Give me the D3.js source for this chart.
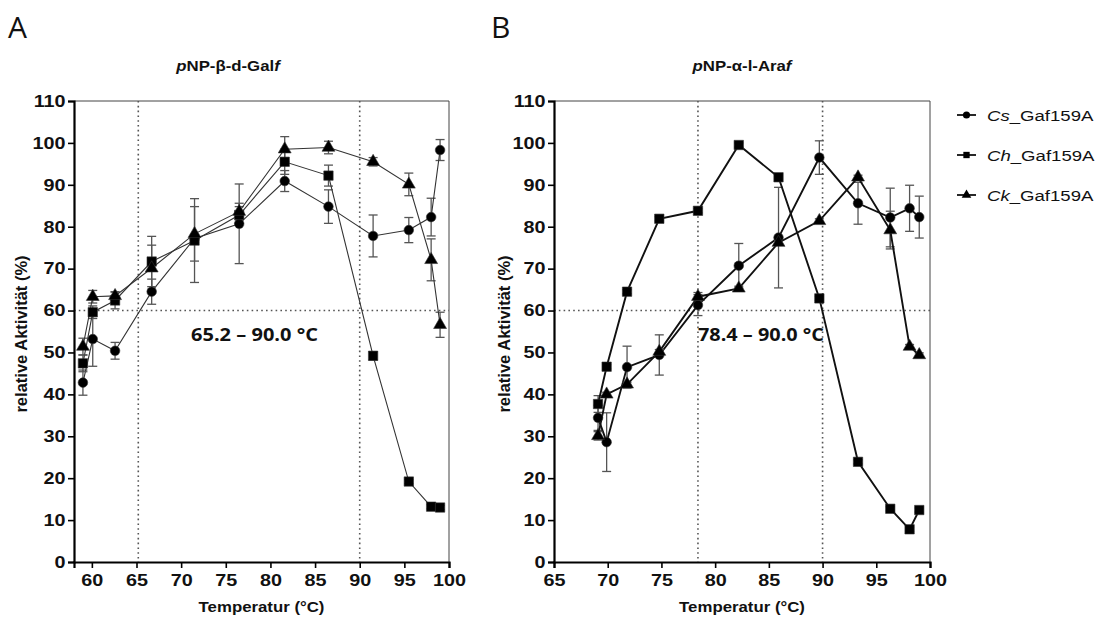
<!DOCTYPE html>
<html><head><meta charset="utf-8">
<script src="https://cdn.jsdelivr.net/npm/d3@7"></script>
<style>
body{margin:0;background:#fff;}
svg{display:block;font-family:"Liberation Sans",Arial,sans-serif;}
</style></head>
<body><svg id="chart" width="1103" height="619"></svg>
<script>
// ---------- DATA ----------
const seriesNames = ["Cs", "Ch", "Ck"];
const legendSuffix = "_Gaf159A";

// Panel A: pNP-β-d-Galf
const tempA = [59.0, 60.1, 62.6, 66.7, 71.5, 76.5, 81.6, 86.5, 91.5, 95.5, 98.0, 99.0];
const csA   = [42.8, 53.2, 50.4, 64.5, 77.2, 80.7, 90.9, 84.8, 77.8, 79.2, 82.3, 98.3];
const csAErr= [3.0, 6.5, 2.0, 3.0, 1.0, 9.5, 2.5, 4.0, 5.0, 3.0, 4.5, 2.5];
const chA   = [47.4, 59.6, 62.4, 71.7, 76.7, 82.8, 95.5, 92.2, 49.2, 19.2, 13.2, 13.0];
const chAErr= [2.0, 1.5, 2.0, 6.0, 10.0, 2.0, 3.0, 2.5, 1.0, 0.5, 0.5, 0.5];
const ckA   = [51.4, 63.3, 63.5, 70.1, 78.3, 83.6, 98.5, 98.9, 95.5, 90.1, 72.1, 56.6];
const ckAErr= [2.0, 1.5, 1.0, 5.5, 6.5, 2.0, 3.0, 1.5, 1.0, 2.7, 5.0, 3.0];

// Panel B: pNP-α-l-Araf
const tempB = [69.1, 69.9, 71.8, 74.8, 78.4, 82.2, 85.9, 89.7, 93.3, 96.3, 98.1, 99.0];
const csB   = [34.4, 28.6, 46.5, 49.4, 61.3, 70.7, 77.4, 96.5, 85.6, 82.2, 84.4, 82.3];
const csBErr= [3.0, 7.0, 5.0, 4.8, 2.5, 5.3, 12.0, 4.0, 5.0, 7.0, 5.5, 5.0];
const chB   = [37.7, 46.6, 64.5, 81.9, 83.8, 99.5, 91.8, 62.9, 23.9, 12.7, 7.8, 12.4];
const chBErr= [2.0, 0.5, 0.5, 0.5, 0.5, 0.5, 0.5, 0.5, 0.5, 0.5, 0.5, 0.5];
const ckB   = [30.1, 40.0, 42.4, 50.2, 63.3, 65.3, 76.2, 81.4, 91.8, 79.2, 51.4, 49.4];
const ckBErr= [1.0, 0.5, 0.5, 0.5, 1.0, 0.5, 0.5, 0.5, 0.5, 4.5, 0.5, 0.5];

const yTicks = [0,10,20,30,40,50,60,70,80,90,100,110];
const xTicksA = [60,65,70,75,80,85,90,95,100];
const xTicksB = [65,70,75,80,85,90,95,100];
const rangeA = [65.2, 90.0];
const rangeB = [78.4, 90.0];
const thresholdLevel = 60;
const rangeLabelA = "65.2 – 90.0 °C";
const rangeLabelB = "78.4 – 90.0 °C";

// ---------- DRAWING ----------
const svg = d3.select("#chart");
const SX = 1.2; // horizontal text stretch of the original figure

function stext(g, x, y, anchor, size, weight){
  return g.append("text")
    .attr("transform", `translate(${x},${y}) scale(${SX},1)`)
    .attr("text-anchor", anchor)
    .style("font-size", size + "px")
    .style("font-weight", weight);
}

const symbolType = {Cs: d3.symbolCircle, Ch: d3.symbolSquare, Ck: d3.symbolTriangle};
const symbolSize = {Cs: 72, Ch: 88, Ck: 72};

function drawPanel(cfg){
  const x = d3.scaleLinear().domain(cfg.xDomain).range(cfg.xRange);
  const y = d3.scaleLinear().domain([0,110]).range([562,101]);
  const g = svg.append("g");

  // frame (top/right)
  g.append("path")
    .attr("d", `M${x.range()[0]},${y(110)}H${x.range()[1]}V${y(0)}`)
    .attr("fill","none").attr("stroke","#444").attr("stroke-width",1);

  // dotted reference lines
  const dot = sel => sel.attr("stroke","#555").attr("stroke-width",1.6)
    .attr("stroke-dasharray","1.6,3.2").attr("fill","none");
  g.append("line").attr("x1",x.range()[0]).attr("x2",x.range()[1])
    .attr("y1",y(thresholdLevel)).attr("y2",y(thresholdLevel)).call(dot);
  cfg.range.forEach(v=>{
    g.append("line").attr("x1",x(v)).attr("x2",x(v))
      .attr("y1",y(110)).attr("y2",y(0)).call(dot);
  });

  // series
  const series = [
    {name:"Cs", vals:cfg.cs, err:cfg.csErr},
    {name:"Ch", vals:cfg.ch, err:cfg.chErr},
    {name:"Ck", vals:cfg.ck, err:cfg.ckErr}
  ];
  const line = d3.line().x(d=>x(d[0])).y(d=>y(d[1]));
  series.forEach(s=>{
    const pts = cfg.temps.map((t,i)=>[t, s.vals[i], s.err[i]]);
    const eg = g.append("g").attr("stroke","#555").attr("stroke-width",1.3);
    pts.forEach(p=>{
      const cx = x(p[0]);
      eg.append("line").attr("x1",cx).attr("x2",cx).attr("y1",y(p[1]-p[2])).attr("y2",y(p[1]+p[2]));
      [p[1]-p[2], p[1]+p[2]].forEach(v=>{
        eg.append("line").attr("x1",cx-4.5).attr("x2",cx+4.5).attr("y1",y(v)).attr("y2",y(v));
      });
    });
    g.append("path").datum(pts).attr("d",line).attr("fill","none")
      .attr("stroke", cfg.lineColor).attr("stroke-width", cfg.lineWidth);
  });
  series.forEach(s=>{
    const pts = cfg.temps.map((t,i)=>[t, s.vals[i]]);
    g.selectAll(null).data(pts).enter().append("path")
      .attr("transform", d=>`translate(${x(d[0])},${y(d[1])})`)
      .attr("d", d3.symbol().type(symbolType[s.name]).size(symbolSize[s.name]))
      .attr("fill","#000").attr("stroke","#333").attr("stroke-width",0.6);
  });

  // axes
  const yMinor = d3.range(0,111,2);
  const xMinor = d3.range(Math.ceil(cfg.xDomain[0]), cfg.xDomain[1]+0.01, 1);
  const yAx = g.append("g").attr("transform",`translate(${x.range()[0]},0)`);
  yAx.call(d3.axisLeft(y).tickValues(yMinor).tickSize(3).tickFormat(""));
  yAx.call(d3.axisLeft(y).tickValues(yTicks).tickSize(6).tickPadding(1));
  const xAx = g.append("g").attr("transform",`translate(0,${y(0)})`);
  xAx.call(d3.axisBottom(x).tickValues(xMinor).tickSize(3).tickFormat(""));
  xAx.call(d3.axisBottom(x).tickValues(cfg.xTicks).tickSize(6).tickPadding(6));
  [yAx,xAx].forEach(a=>{
    a.selectAll("path.domain").attr("stroke","#000").attr("stroke-width",2.2);
    a.selectAll(".tick line").attr("stroke","#000").attr("stroke-width",1.6);
    a.selectAll(".tick text").attr("fill","#111")
      .style("font-size","16.5px").style("font-weight","bold")
      .attr("font-family","'Liberation Sans',Arial,sans-serif");
  });
  yAx.selectAll(".tick text").attr("transform",`scale(${SX},1)`);
  xAx.selectAll(".tick text").attr("transform",`scale(${SX},1)`);

  // axis titles
  const xl = stext(g, (x.range()[0]+x.range()[1])/2, 612, "middle", 14, "bold").attr("fill","#111");
  xl.text("Temperatur (°C)");
  g.append("text").attr("transform",`translate(${cfg.yLabelX},334) rotate(-90)`)
    .attr("text-anchor","middle").style("font-size","16.5px").style("font-weight","bold")
    .attr("fill","#111").text("relative Aktivität (%)");

  // panel title
  const t = stext(g, cfg.titleX, 71, "middle", 14, "bold").attr("fill","#111");
  t.append("tspan").style("font-style","italic").text("p");
  t.append("tspan").text(cfg.titleMid);
  t.append("tspan").style("font-style","italic").text("f");

  // range annotation
  g.append("text").attr("x",cfg.annX).attr("y",341)
    .attr("textLength",cfg.annW).attr("lengthAdjust","spacingAndGlyphs")
    .style("font-family","'Open Sans',sans-serif").style("font-size","17px")
    .style("font-weight","bold").attr("fill","#111").text(cfg.annText);

  // panel letter
  svg.append("text").attr("x",cfg.letterX).attr("y",38)
    .style("font-family","'Open Sans',sans-serif").style("font-size","30px")
    .attr("fill","#111").text(cfg.letter);
}

drawPanel({letter:"A", letterX:8, xDomain:[58,100], xRange:[74,449], xTicks:xTicksA,
  temps:tempA, cs:csA, csErr:csAErr, ch:chA, chErr:chAErr, ck:ckA, ckErr:ckAErr,
  range:rangeA, lineColor:"#333", lineWidth:1.1, yLabelX:27, titleX:228,
  titleMid:"NP-β-d-Gal", annText:rangeLabelA, annX:191, annW:127});
drawPanel({letter:"B", letterX:491, xDomain:[65,100], xRange:[554,930], xTicks:xTicksB,
  temps:tempB, cs:csB, csErr:csBErr, ch:chB, chErr:chBErr, ck:ckB, ckErr:ckBErr,
  range:rangeB, lineColor:"#111", lineWidth:1.9, yLabelX:510, titleX:742,
  titleMid:"NP-α-l-Ara", annText:rangeLabelB, annX:698, annW:126});

// legend
const legY = [115, 155, 195];
const lg = svg.append("g");
seriesNames.forEach((n,i)=>{
  const yy = legY[i];
  lg.append("line").attr("x1",957).attr("x2",976).attr("y1",yy).attr("y2",yy)
    .attr("stroke","#111").attr("stroke-width",1.8);
  lg.append("path").attr("transform",`translate(966.5,${yy})`)
    .attr("d", d3.symbol().type(symbolType[n]).size(40)).attr("fill","#000");
  const t = stext(lg, 987, yy+5.5, "start", 15.5, "normal").attr("fill","#111");
  t.append("tspan").style("font-style","italic").text(n);
  t.append("tspan").text(legendSuffix);
});
</script></body></html>
